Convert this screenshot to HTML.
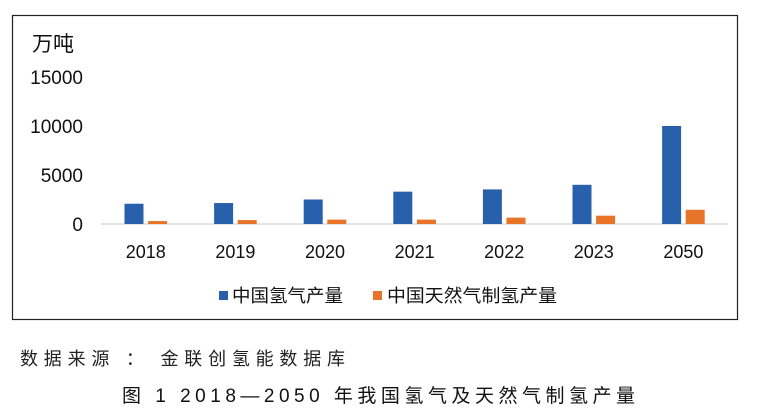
<!DOCTYPE html>
<html><head><meta charset="utf-8"><style>
body{margin:0;background:#fff;width:769px;height:406px;overflow:hidden;font-family:"Liberation Sans","Noto Sans CJK SC",sans-serif}
</style></head><body>
<svg width="769" height="406" xmlns="http://www.w3.org/2000/svg" font-family="Liberation Sans, Noto Sans CJK SC, sans-serif">
<rect x="12.5" y="15.5" width="725" height="304" fill="none" stroke="#222" stroke-width="1.2"/>
<text x="32" y="51" font-size="21" fill="#111">万吨</text>
<g id="yticks"></g>
<line x1="101" y1="224" x2="728" y2="224" stroke="#ccc" stroke-width="1"/>
<g id="bars"></g>
<g id="xlabels"></g>
<g>
<rect x="219" y="291" width="9" height="9" fill="#2960ac"/>
<text x="232" y="302" font-size="18" fill="#111" textLength="111" lengthAdjust="spacingAndGlyphs">中国氢气产量</text>
<rect x="373" y="291" width="9" height="9" fill="#e8742a"/>
<text x="387" y="302" font-size="18" fill="#111" textLength="170" lengthAdjust="spacingAndGlyphs">中国天然气制氢产量</text>
</g>
<text x="20" y="365" font-size="18" fill="#222" textLength="325" lengthAdjust="spacing">数据来源 ： 金联创氢能数据库</text>
<text x="122" y="402" font-size="19" fill="#111" textLength="513" lengthAdjust="spacing">图 1  2018—2050 年我国氢气及天然气制氢产量</text>
</svg>
<script>
const categories=["2018","2019","2020","2021","2022","2023","2050"];
const hydrogen=[2070,2140,2500,3300,3530,4000,10000];
const gasHydrogen=[300,400,450,450,650,850,1450];
const yTicks=[0,5000,10000,15000];
const NS="http://www.w3.org/2000/svg";
const x0=101,step=89.6,y0=224,pxPer=49/5000;
const y=v=>y0-v*pxPer;
const cx=i=>x0+step*(i+0.5);
const yt=document.getElementById('yticks'),bars=document.getElementById('bars'),xl=document.getElementById('xlabels');
function mk(tag,attrs){const e=document.createElementNS(NS,tag);for(const k in attrs)e.setAttribute(k,attrs[k]);return e;}
yTicks.forEach(t=>{const e=mk('text',{x:83,y:y(t)+7,'font-size':19,'text-anchor':'end',fill:'#111'});


e.textContent=t;yt.appendChild(e);});
categories.forEach((c,i)=>{
const b=mk('rect',{x:cx(i)-21.3,y:y(hydrogen[i]),width:19,height:hydrogen[i]*pxPer,fill:'#2960ac'});


bars.appendChild(b);
const o=mk('rect',{x:cx(i)+2.3,y:y(gasHydrogen[i]),width:19,height:gasHydrogen[i]*pxPer,fill:'#e8742a'});


bars.appendChild(o);
const t=mk('text',{x:cx(i),y:258,'font-size':18,'text-anchor':'middle',fill:'#111'});


t.textContent=c;xl.appendChild(t);
});
</script>
</body></html>
